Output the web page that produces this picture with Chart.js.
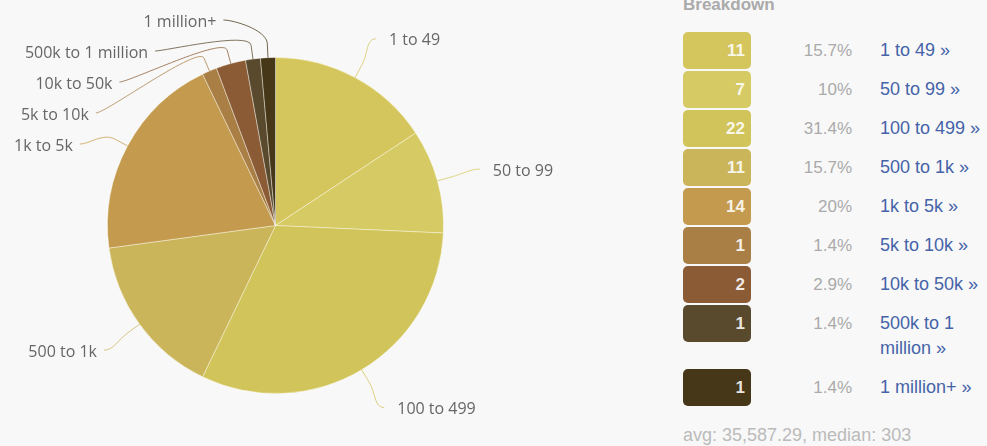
<!DOCTYPE html>
<html>
<head>
<meta charset="utf-8">
<title>Breakdown</title>
<script src="https://cdn.jsdelivr.net/npm/chart.js@4.4.0/dist/chart.umd.min.js"></script>
<style>
  html, body { margin: 0; padding: 0; background: #f8f8f8; width: 987px; height: 446px; overflow: hidden; }
  #pieWrap { position: absolute; left: 0; top: 0; width: 660px; height: 446px; }
  #breakdown { position: absolute; left: 683px; top: -5px; width: 304px; font-family: "Liberation Sans", Arial, sans-serif; }
  #breakdown h3 { margin: 0; height: 20px; line-height: 20px; font-size: 17px; font-weight: bold; color: #aaa; }
  #breakdown table { border-collapse: collapse; margin-top: 16px; }
  #breakdown td { padding: 0; vertical-align: top; }
  td.box { width: 68px; padding: 1px 0 !important; }
  td.box div { height: 37px; line-height: 37px; border-radius: 5px; text-align: right; padding-right: 6px;
               color: rgba(255,255,255,0.88); font-size: 17px; font-weight: bold; }
  td.pct { width: 101px; text-align: right; padding: 7px 0 !important; line-height: 25px; color: #aaa; font-size: 17px; }
  td.link { width: 107px; padding: 7px 0 7px 28px !important; line-height: 25px; color: #4563a8; font-size: 18px; }
  #stats { position: absolute; left: 683px; top: 424px; line-height: 22px; font-family: "Liberation Sans", Arial, sans-serif;
           font-size: 18px; color: #bbb; white-space: nowrap; }
</style>
</head>
<body>
<div id="pieWrap"><canvas id="pieChart" width="660" height="446"></canvas></div>
<div id="breakdown">
  <h3>Breakdown</h3>
  <table><tbody id="breakdownRows"></tbody></table>
</div>
<div id="stats"></div>
<script>
// Size buckets and how many items fall in each
const categories = ['1 to 49', '50 to 99', '100 to 499', '500 to 1k', '1k to 5k', '5k to 10k', '10k to 50k', '500k to 1 million', '1 million+'];
const counts = [11, 7, 22, 11, 14, 1, 2, 1, 1];
const sliceColors = ['#d4c65c', '#d6ca64', '#d1c45a', '#cbb55a', '#c49b4e', '#a97f46', '#8b5b36', '#5a4a2d', '#453717'];
const avgValue = '35,587.29';
const medianValue = '303';

// label layout around the pie
const LABEL_DISTANCE = 44;
const LABEL_TOP = 20;
const LABEL_GAP = 31;

const total = counts.reduce((s, v) => s + v, 0);

function hexToRgba(hex, alpha) {
    const n = parseInt(hex.slice(1), 16);
    return 'rgba(' + ((n >> 16) & 255) + ',' + ((n >> 8) & 255) + ',' + (n & 255) + ',' + alpha + ')';
}

// Outside labels with soft connectors, pushed apart so they don't overlap
const sliceLabels = {
    id: 'sliceLabels',
    afterDatasetsDraw(chart) {
        const meta = chart.getDatasetMeta(0);
        const ctx = chart.ctx;
        const items = meta.data.map((arc, i) => {
            const p = arc.getProps(['x', 'y', 'startAngle', 'endAngle', 'outerRadius'], true);
            const mid = (p.startAngle + p.endAngle) / 2;
            const R = p.outerRadius + LABEL_DISTANCE;
            return {
                i, cx: p.x, cy: p.y, r: p.outerRadius, mid, R,
                side: Math.cos(mid) >= 0 ? 1 : -1,
                y: p.y + R * Math.sin(mid)
            };
        });

        [1, -1].forEach(side => {
            const group = items.filter(it => it.side === side).sort((a, b) => a.y - b.y);
            let prev = -Infinity;
            group.forEach(it => {
                it.y = Math.max(it.y, LABEL_TOP, prev + LABEL_GAP);
                prev = it.y;
            });
        });

        ctx.save();
        ctx.font = '16px "Open Sans", "DejaVu Sans", sans-serif';
        ctx.textBaseline = 'middle';
        items.forEach(it => {
            const dy = Math.min(Math.abs(it.y - it.cy), it.R);
            const lx = it.cx + it.side * Math.sqrt(it.R * it.R - dy * dy);
            const ly = it.y;
            const cos = Math.cos(it.mid), sin = Math.sin(it.mid);
            const ex = it.cx + it.r * cos, ey = it.cy + it.r * sin;
            const bx = it.cx + (it.r + 14) * cos, by = it.cy + (it.r + 14) * sin;

            ctx.beginPath();
            ctx.moveTo(lx, ly);
            ctx.bezierCurveTo(lx - it.side * 10, ly, 2 * bx - ex, 2 * by - ey, bx, by);
            ctx.lineTo(ex, ey);
            ctx.strokeStyle = hexToRgba(sliceColors[it.i], 0.75);
            ctx.lineWidth = 1;
            ctx.stroke();

            ctx.fillStyle = '#666';
            ctx.textAlign = it.side > 0 ? 'left' : 'right';
            ctx.fillText(categories[it.i], lx + (it.side > 0 ? 13 : -7), ly + 2);
        });
        ctx.restore();
    }
};

new Chart(document.getElementById('pieChart').getContext('2d'), {
    type: 'pie',
    data: {
        labels: categories,
        datasets: [{
            data: counts,
            backgroundColor: sliceColors,
            borderColor: 'rgba(255, 255, 245, 0.4)',
            borderWidth: 1
        }]
    },
    options: {
        responsive: false,
        devicePixelRatio: 1,
        animation: false,
        layout: { padding: { left: 107, right: 216, top: 57, bottom: 52 } },
        plugins: {
            legend: { display: false },
            tooltip: { enabled: false }
        }
    },
    plugins: [sliceLabels]
});

// Breakdown table
const tbody = document.getElementById('breakdownRows');
tbody.innerHTML = categories.map((name, i) => {
    const pct = parseFloat((counts[i] / total * 100).toFixed(1));
    return `
        <tr>
            <td class="box"><div style="background:${sliceColors[i]}">${counts[i]}</div></td>
            <td class="pct">${pct}%</td>
            <td class="link">${name} &raquo;</td>
        </tr>`;
}).join('');

document.getElementById('stats').textContent = 'avg: ' + avgValue + ', median: ' + medianValue;
</script>
</body>
</html>
